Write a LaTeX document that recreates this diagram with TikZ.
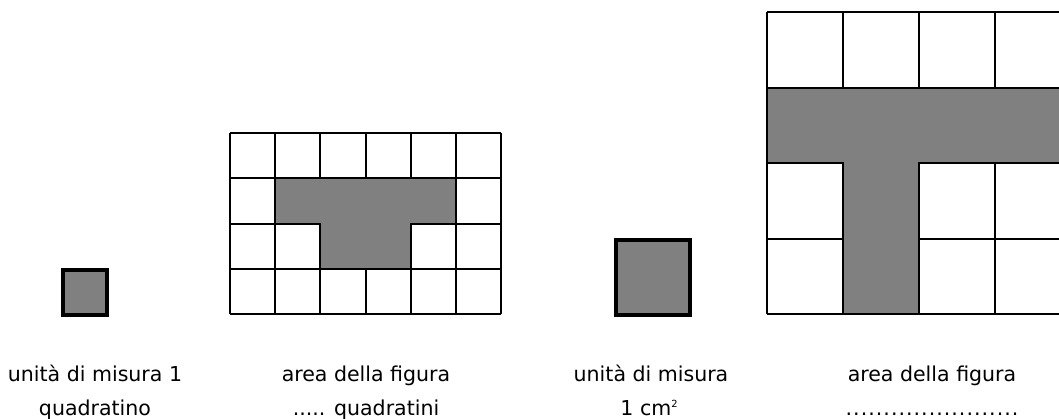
\documentclass[tikz,border=0pt]{standalone}
\usepackage{fontspec}
\setmainfont{DejaVu Sans}
\usepackage{tikz}
\usepackage{xcolor}
\definecolor{sqgray}{RGB}{128,128,128}
\tikzstyle{gridline} = [line width=1.4pt, color=black]
\tikzstyle{unitsq} = [line width=2.6pt, draw=black, fill=sqgray]
\tikzstyle{tshape} = [line width=1.4pt, draw=black, fill=sqgray]
\tikzstyle{caption} = [anchor=base, inner sep=0pt, font=\fontsize{14.6}{17}\selectfont]

\begin{document}
\begin{tikzpicture}[x=0.025cm, y=0.025cm]
\useasboundingbox (0,0) rectangle (1059,419);
\clip (0,0) rectangle (1059,419);

% Unit squares
\draw[unitsq] (62.9,103.9) rectangle (107.1,149.1);
\draw[unitsq] (615.9,103.9) rectangle (690.1,179.1);

% Small grid with T shape
\begin{scope}[shift={(230,105)}, x=1.13cm, y=1.13cm]
\draw[gridline, step=1] (0,0) grid (6,4);
\draw[tshape] (1,3) -- (5,3) -- (5,2) -- (4,2) -- (4,1) -- (2,1) -- (2,2) -- (1,2) -- cycle;
\end{scope}

% Large grid with T shape
\begin{scope}[shift={(767,105)}, x=1.9cm, y=1.885cm]
\draw[gridline, step=1] (0,0) grid (4,4);
\draw[tshape] (0,3) -- (4,3) -- (4,2) -- (2,2) -- (2,0) -- (1,0) -- (1,2) -- (0,2) -- cycle;
\end{scope}

% Captions
\node[caption] (unit1a) at (95,37.3) {unità di misura 1};
\node[caption] (unit1b) at (95,3) {quadratino};
\node[caption] (area1a) at (366,37.3) {area della figura};
\node[caption] (area1b) at (366,3) {..... quadratini};
\node[caption] (unit2a) at (651,37.3) {unità di misura};
\node[caption] (unit2b) at (649,3) {1 cm\raisebox{0.8ex}{\fontsize{7}{7}\selectfont 2}};
\node[caption] (area2a) at (932,37.3) {area della figura};
\node[caption] (area2b) at (932,3) {\addfontfeatures{LetterSpace=5}.......................};
\end{tikzpicture}
\end{document}
